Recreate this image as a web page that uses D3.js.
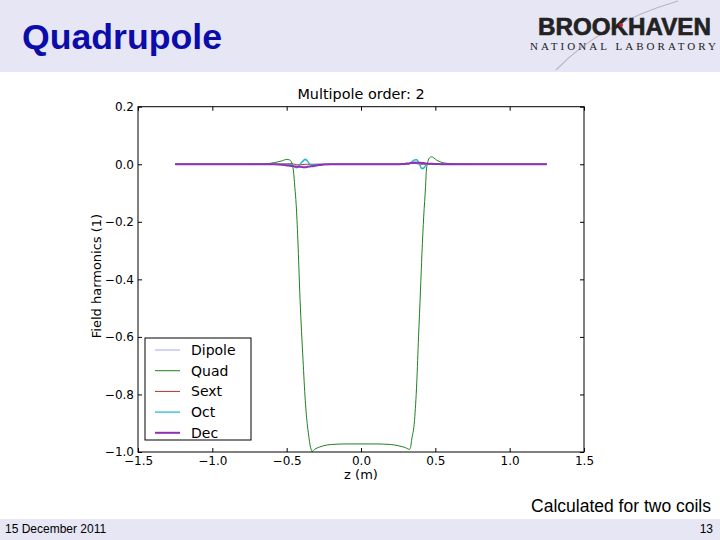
<!DOCTYPE html>
<html><head><meta charset="utf-8">
<script src="https://cdn.jsdelivr.net/npm/d3@7"></script>
<style>html,body{margin:0;padding:0;background:#fff;}svg{display:block;}</style>
</head><body>
<svg id="c" width="720" height="540"></svg>
<script>
// ---- data ----
const zValues = [-1.25, -0.8, -0.65, -0.58, -0.53, -0.5, -0.48, -0.465, -0.455, -0.445, -0.436, -0.425, -0.41, -0.39, -0.375, -0.36, -0.35, -0.343, -0.336, -0.33, -0.31, -0.28, -0.25, -0.2, -0.1, 0, 0.1, 0.2, 0.25, 0.28, 0.3, 0.315, 0.325, 0.333, 0.34, 0.36, 0.375, 0.387, 0.4, 0.41, 0.422, 0.434, 0.44, 0.45, 0.46, 0.475, 0.49, 0.51, 0.54, 0.58, 0.65, 0.8, 1.25];
const quadValues = [0, 0, 0.001, 0.006, 0.012, 0.017, 0.015, 0.004, -0.02, -0.08, -0.14, -0.26, -0.47, -0.68, -0.82, -0.91, -0.95, -0.975, -0.99, -0.998, -0.99, -0.983, -0.978, -0.974, -0.972, -0.972, -0.972, -0.974, -0.978, -0.982, -0.985, -0.989, -0.991, -0.985, -0.96, -0.89, -0.76, -0.6, -0.44, -0.31, -0.18, -0.08, -0.02, 0.01, 0.022, 0.026, 0.022, 0.014, 0.007, 0.003, 0.001, 0, 0];
const dipoleValues = [0, 0, 0, 0, 0, 0, 0, 0, -0.003, -0.007, -0.01, -0.008, 0, 0.009, 0.013, 0.009, 0.003, 0, -0.002, -0.002, -0.001, 0, 0, 0, 0, 0, 0, 0, 0, 0, 0, 0, 0.001, 0.003, 0.006, 0.011, 0.012, 0.006, -0.006, -0.012, -0.01, -0.004, -0.001, 0, 0, 0, 0, 0, 0, 0, 0, 0, 0];
const sextValues = [0, 0, 0, 0, 0.001, 0.001, 0.002, 0.002, 0.001, 0, -0.001, -0.002, -0.002, -0.001, 0, 0, 0, 0, 0, 0, 0, 0, 0, 0, 0, 0, 0, 0, 0, 0, 0.001, 0.002, 0.003, 0.004, 0.004, 0.003, 0.002, 0.001, 0, 0, 0, 0, 0, 0, 0, 0, 0, 0, 0, 0, 0, 0, 0];
const octValues = [0, 0, 0, 0, 0, 0, 0, 0, -0.005, -0.01, -0.013, -0.01, 0, 0.012, 0.018, 0.012, 0.004, 0, -0.003, -0.003, -0.001, 0, 0, 0, 0, 0, 0, 0, 0, 0, 0, 0, 0.002, 0.004, 0.008, 0.015, 0.016, 0.008, -0.008, -0.016, -0.014, -0.006, -0.002, 0, 0, 0, 0, 0, 0, 0, 0, 0, 0];
const decValues = [0, 0, 0, 0, -0.002, -0.004, -0.005, -0.006, -0.007, -0.008, -0.008, -0.009, -0.009, -0.01, -0.01, -0.009, -0.008, -0.008, -0.007, -0.007, -0.005, -0.003, -0.001, 0, 0, 0, 0, 0, 0, 0.001, 0.002, 0.003, 0.003, 0.004, 0.004, 0.005, 0.005, 0.005, 0.005, 0.004, 0.004, 0.003, 0.003, 0.002, 0.002, 0.002, 0.001, 0.001, 0, 0, 0, 0, 0];
const seriesNames = ["Dipole", "Quad", "Sext", "Oct", "Dec"];
const xTicks = [-1.5, -1.0, -0.5, 0.0, 0.5, 1.0, 1.5];
const yTicks = [0.2, 0.0, -0.2, -0.4, -0.6, -0.8, -1.0];
const titleText = "Quadrupole";
const chartTitle = "Multipole order: 2";
const xLabel = "z (m)";
const yLabel = "Field harmonics (1)";
const noteText = "Calculated for two coils";
const dateText = "15 December 2011";
const pageText = "13";

// ---- styles ----
const seriesStyle = {
  Dipole: {color: "#a8a8ee", width: 1},
  Quad:   {color: "#1f801f", width: 1},
  Sext:   {color: "#b03030", width: 1},
  Oct:    {color: "#10b8d0", width: 1.2},
  Dec:    {color: "#9030b8", width: 2}
};
const seriesData = {Dipole: dipoleValues, Quad: quadValues, Sext: sextValues, Oct: octValues, Dec: decValues};

const svg = d3.select("#c");
const font = "DejaVu Sans, sans-serif";

// slide header & footer
svg.append("rect").attr("x",0).attr("y",0).attr("width",720).attr("height",72).attr("fill","#e6e6f5");
svg.append("rect").attr("x",0).attr("y",519).attr("width",720).attr("height",21).attr("fill","#e6e6f5");
svg.append("text").attr("x",22).attr("y",49).attr("font-family","Liberation Sans, Arial, sans-serif")
  .attr("font-size",35).attr("font-weight","bold").attr("fill","#0c0caa")
  .attr("textLength",200).attr("lengthAdjust","spacingAndGlyphs").text(titleText);

// logo
const logo = svg.append("g");
logo.append("path").attr("d","M556,70 Q600,24 678,1").attr("fill","none").attr("stroke","#b8b8c0").attr("stroke-width",1.2);
logo.append("text").attr("x",538).attr("y",35).attr("font-family","Liberation Sans, Arial, sans-serif")
  .attr("font-size",23).attr("font-weight","bold").attr("fill","#222").attr("stroke","#222").attr("stroke-width",0.6)
  .attr("textLength",173).attr("lengthAdjust","spacingAndGlyphs").text("BROOKHAVEN");
logo.append("circle").attr("cx",621).attr("cy",25).attr("r",2).attr("fill","#d02020");
logo.append("text").attr("x",530).attr("y",49.5).attr("font-family","Liberation Serif, serif")
  .attr("font-size",11).attr("fill","#222")
  .attr("textLength",186).attr("lengthAdjust","spacing").text("NATIONAL LABORATORY");

// chart
const L = 138, R = 584, T = 106.7, B = 452;
const x = d3.scaleLinear().domain([-1.5, 1.5]).range([L, R]);
const y = d3.scaleLinear().domain([-1.0, 0.2]).range([B, T]);

const clipId = "plotclip";
svg.append("clipPath").attr("id",clipId).append("rect").attr("x",L).attr("y",T).attr("width",R-L).attr("height",B-T);
svg.append("rect").attr("x",L).attr("y",T).attr("width",R-L).attr("height",B-T).attr("fill","#fff");

const line = d3.line().x((d,i)=>x(zValues[i])).y(d=>y(d)).curve(d3.curveMonotoneX);
const plotG = svg.append("g").attr("clip-path",`url(#${clipId})`);
seriesNames.forEach(n=>{
  plotG.append("path").datum(seriesData[n]).attr("d",line)
    .attr("fill","none").attr("stroke",seriesStyle[n].color).attr("stroke-width",seriesStyle[n].width);
});

// axes
const fmt = d3.format(".1f");
const tfmt = v => fmt(v).replace("-", "\u2212");
const axB = d3.axisBottom(x).tickValues(xTicks).tickFormat(tfmt).tickSizeInner(-4).tickSizeOuter(0).tickPadding(4);
const axT = d3.axisTop(x).tickValues(xTicks).tickFormat("").tickSizeInner(-4).tickSizeOuter(0);
const axL = d3.axisLeft(y).tickValues(yTicks).tickFormat(tfmt).tickSizeInner(-4).tickSizeOuter(0).tickPadding(4);
const axR = d3.axisRight(y).tickValues(yTicks).tickFormat("").tickSizeInner(-4).tickSizeOuter(0);
function styleAx(g){ g.select(".domain").remove(); g.selectAll("line").attr("stroke","#000"); g.selectAll("text").attr("font-family",font).attr("font-size",12).attr("fill","#000"); }
svg.append("g").attr("transform",`translate(0,${B})`).call(axB).call(styleAx);
svg.append("g").attr("transform",`translate(0,${T})`).call(axT).call(styleAx);
svg.append("g").attr("transform",`translate(${L},0)`).call(axL).call(styleAx);
svg.append("g").attr("transform",`translate(${R},0)`).call(axR).call(styleAx);
svg.append("rect").attr("x",L).attr("y",T).attr("width",R-L).attr("height",B-T).attr("fill","none").attr("stroke","#000").attr("stroke-width",1);

svg.append("text").attr("x",(L+R)/2).attr("y",99).attr("text-anchor","middle").attr("font-family",font).attr("font-size",14.4).text(chartTitle);
svg.append("text").attr("x",(L+R)/2).attr("y",479).attr("text-anchor","middle").attr("font-family",font).attr("font-size",13).text(xLabel);
svg.append("text").attr("transform","translate(101,276) rotate(-90)").attr("text-anchor","middle").attr("font-family",font).attr("font-size",13).text(yLabel);

// legend
const lg = svg.append("g");
lg.append("rect").attr("x",145).attr("y",338).attr("width",106).attr("height",102).attr("fill","#fff").attr("stroke","#000").attr("stroke-width",1);
seriesNames.forEach((n,i)=>{
  const yy = 350 + i*20.7;
  lg.append("line").attr("x1",155).attr("x2",180).attr("y1",yy).attr("y2",yy).attr("stroke",seriesStyle[n].color).attr("stroke-width",seriesStyle[n].width);
  lg.append("text").attr("x",191).attr("y",yy+5).attr("font-family",font).attr("font-size",14).text(n);
});

// footer text
svg.append("text").attr("x",711).attr("y",512).attr("text-anchor","end").attr("font-family","Liberation Sans, Arial, sans-serif").attr("font-size",17.5).attr("fill","#000").text(noteText);
svg.append("text").attr("x",5).attr("y",533).attr("font-family","Liberation Sans, Arial, sans-serif").attr("font-size",12).attr("fill","#000").text(dateText);
svg.append("text").attr("x",713).attr("y",533).attr("text-anchor","end").attr("font-family","Liberation Sans, Arial, sans-serif").attr("font-size",12).attr("fill","#000").text(pageText);
</script>
</body></html>
